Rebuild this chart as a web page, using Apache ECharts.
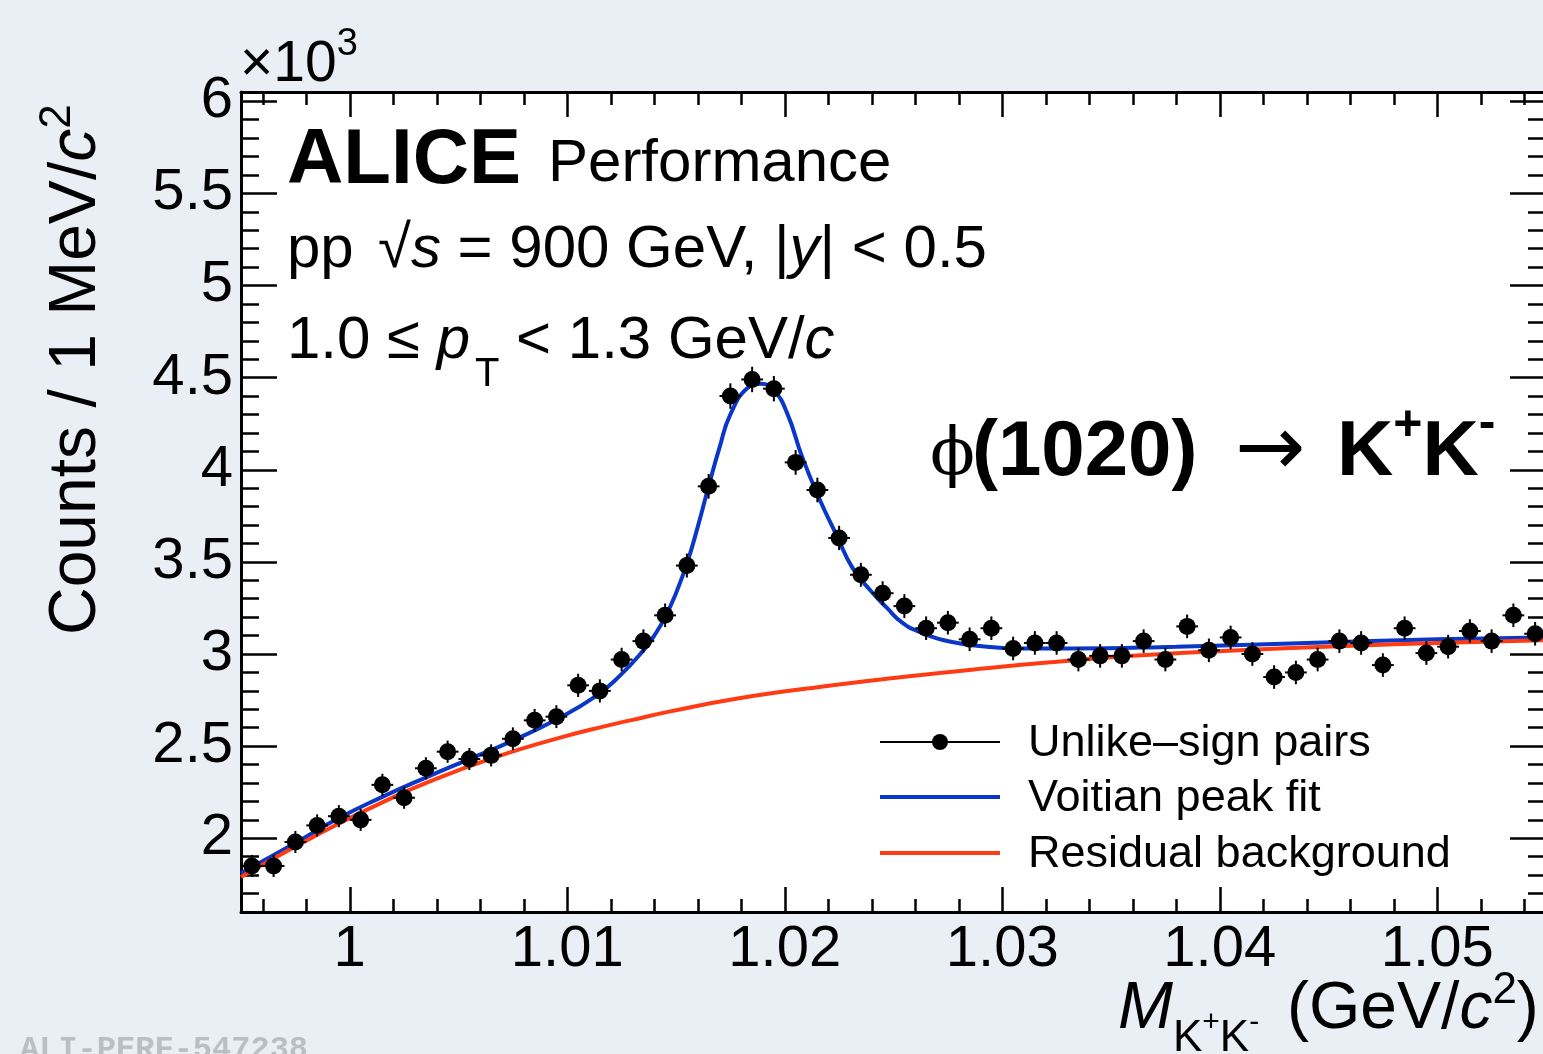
<!DOCTYPE html>
<html lang="en">
<head>
<meta charset="UTF-8">
<title>phi(1020) -> K+K- invariant mass</title>
<script src="https://cdn.jsdelivr.net/npm/echarts@6/dist/echarts.min.js"></script>
<style>
    html, body { margin: 0; padding: 0; background: #eaeff6; }
    #main { width: 1543px; height: 1054px; }
</style>
</head>
<body>
<div id="main"></div>
<script>
// invariant mass bins (GeV/c^2), counts in units of 10^3 per 1 MeV/c^2
var binCenters = [0.9955, 0.9965, 0.9975, 0.9985, 0.9995, 1.0005, 1.0015, 1.0025, 1.0035, 1.0045,
    1.0055, 1.0065, 1.0075, 1.0085, 1.0095, 1.0105, 1.0115, 1.0125, 1.0135, 1.0145,
    1.0155, 1.0165, 1.0175, 1.0185, 1.0195, 1.0205, 1.0215, 1.0225, 1.0235, 1.0245,
    1.0255, 1.0265, 1.0275, 1.0285, 1.0295, 1.0305, 1.0315, 1.0325, 1.0335, 1.0345,
    1.0355, 1.0365, 1.0375, 1.0385, 1.0395, 1.0405, 1.0415, 1.0425, 1.0435, 1.0445,
    1.0455, 1.0465, 1.0475, 1.0485, 1.0495, 1.0505, 1.0515, 1.0525, 1.0535, 1.0545];
var counts = [1.85, 1.85, 1.98, 2.07, 2.12, 2.10, 2.29, 2.22, 2.38, 2.47,
    2.43, 2.45, 2.54, 2.64, 2.66, 2.83, 2.80, 2.97, 3.07, 3.21,
    3.48, 3.91, 4.40, 4.49, 4.44, 4.04, 3.89, 3.63, 3.43, 3.33,
    3.26, 3.14, 3.17, 3.08, 3.14, 3.03, 3.06, 3.06, 2.97, 2.99,
    2.99, 3.07, 2.97, 3.15, 3.02, 3.09, 3.00, 2.875, 2.90, 2.97,
    3.07, 3.06, 2.94, 3.14, 3.005, 3.04, 3.125, 3.07, 3.21, 3.11];
var countErrors = [0.060, 0.060, 0.060, 0.060, 0.060, 0.060, 0.060, 0.060, 0.060, 0.060,
    0.060, 0.060, 0.062, 0.062, 0.062, 0.063, 0.063, 0.064, 0.064, 0.064,
    0.065, 0.067, 0.069, 0.069, 0.069, 0.067, 0.067, 0.066, 0.065, 0.065,
    0.065, 0.064, 0.064, 0.064, 0.064, 0.064, 0.064, 0.064, 0.064, 0.064,
    0.064, 0.064, 0.064, 0.064, 0.064, 0.064, 0.064, 0.064, 0.064, 0.064,
    0.064, 0.064, 0.064, 0.064, 0.064, 0.064, 0.064, 0.064, 0.064, 0.064];
var binHalfWidth = 0.0005;

// Voigtian peak + background fit
var fitX = [0.995, 0.9975, 0.9995, 1.0015, 1.0036, 1.0055, 1.0075, 1.0095, 1.0113, 1.0124,
    1.0135, 1.0140, 1.0145, 1.0150, 1.0155, 1.0160, 1.0165, 1.0170, 1.0175, 1.0183,
    1.0189, 1.0195, 1.0201, 1.0208, 1.0216, 1.0224, 1.0231, 1.0239, 1.0247, 1.0254,
    1.0262, 1.0277, 1.0293, 1.0308, 1.0331, 1.038, 1.044, 1.050, 1.055];
var fitY = [1.81, 1.975, 2.11, 2.225, 2.335, 2.43, 2.53, 2.645, 2.77, 2.88,
    3.02, 3.10, 3.20, 3.33, 3.49, 3.69, 3.91, 4.12, 4.30, 4.445,
    4.467, 4.43, 4.31, 4.07, 3.84, 3.64, 3.47, 3.35, 3.25, 3.17,
    3.12, 3.065, 3.04, 3.03, 3.03, 3.04, 3.06, 3.08, 3.09];

// residual background
var bkgX = [0.995, 0.9975, 0.9995, 1.0015, 1.0036, 1.0067, 1.0098, 1.0118, 1.0129, 1.0148,
    1.0179, 1.0215, 1.0254, 1.0290, 1.0322, 1.0360, 1.0399, 1.0461, 1.0500, 1.055];
var bkgY = [1.79, 1.955, 2.08, 2.195, 2.305, 2.44, 2.55, 2.61, 2.64, 2.69,
    2.76, 2.82, 2.875, 2.92, 2.955, 2.99, 3.015, 3.045, 3.06, 3.075];

var xLabelValues = [1, 1.01, 1.02, 1.03, 1.04, 1.05];
var yLabelValues = [2, 2.5, 3, 3.5, 4, 4.5, 5, 5.5, 6];

var FONT = 'Liberation Sans';
var measure = document.createElement('canvas').getContext('2d');

function inList(list, v) {
    for (var i = 0; i < list.length; i++) {
        if (Math.abs(list[i] - v) < 1e-7) return true;
    }
    return false;
}

// a run of text pieces on one baseline; pieces may change size / style / offset
function textRun(x, y, pieces, rotation) {
    var cx = 0, kids = [];
    pieces.forEach(function (p) {
        if (p.x !== undefined) cx = p.x;
        var fam = p.family || FONT;
        var st = p.italic ? 'italic' : 'normal';
        var wt = p.bold ? 'bold' : 'normal';
        measure.font = st + ' ' + wt + ' ' + p.size + 'px ' + fam;
        kids.push({
            type: 'text', x: cx, y: (p.dy || 0) - 0.32 * p.size,
            style: {
                text: p.t, fill: p.color || '#000',
                fontSize: p.size, fontFamily: fam, fontStyle: st, fontWeight: wt,
                align: 'left', verticalAlign: 'middle', textAlign: 'left', textVerticalAlign: 'middle'
            }
        });
        cx += measure.measureText(p.t).width;
    });
    return { type: 'group', x: x, y: y, rotation: rotation || 0, children: kids, silent: true, z: 100 };
}

function xAxisOpt(pos, showLabels) {
    return {
        type: 'value', position: pos, min: 0.995, max: 1.055, splitNumber: 6,
        axisLine: { show: true, onZero: false, lineStyle: { color: '#000', width: 3 } },
        axisTick: { show: true, inside: true, length: 25, lineStyle: { color: '#000', width: 2.5 } },
        minorTick: { show: true, splitNumber: 5, length: 13, lineStyle: { color: '#000', width: 2.5 } },
        splitLine: { show: false }, minorSplitLine: { show: false },
        axisLabel: {
            show: showLabels, margin: 9, color: '#000', fontSize: 58, fontFamily: FONT,
            formatter: function (v) { return inList(xLabelValues, v) ? String(+v.toFixed(2)) : ''; }
        }
    };
}

function yAxisOpt(pos, showLabels) {
    return {
        type: 'value', position: pos, min: 1.6, max: 6.05, splitNumber: 9,
        axisLine: { show: true, onZero: false, lineStyle: { color: '#000', width: 3 } },
        axisTick: { show: true, inside: true, length: 36, lineStyle: { color: '#000', width: 2.5 } },
        minorTick: { show: true, splitNumber: 5, length: 18, lineStyle: { color: '#000', width: 2.5 } },
        splitLine: { show: false }, minorSplitLine: { show: false },
        axisLabel: {
            show: showLabels, margin: 8, color: '#000', fontSize: 58, fontFamily: FONT,
            formatter: function (v) { return inList(yLabelValues, v) ? String(+v.toFixed(1)) : ''; }
        }
    };
}

var pointData = binCenters.map(function (x, i) { return [x, counts[i], countErrors[i]]; });
var fitData = fitX.map(function (x, i) { return [x, fitY[i]]; });
var bkgData = bkgX.map(function (x, i) { return [x, bkgY[i]]; });

var legendRows = [
    { y: 742, label: 'Unlike\u2013sign pairs', color: '#000', width: 2, dot: true },
    { y: 797, label: 'Voitian peak fit', color: '#0a37c8', width: 4 },
    { y: 853, label: 'Residual background', color: '#ff3b14', width: 4 }
];
var legendGraphics = [];
legendRows.forEach(function (r) {
    legendGraphics.push({ type: 'line', z: 100, shape: { x1: 880, y1: r.y, x2: 1000, y2: r.y }, style: { stroke: r.color, lineWidth: r.width } });
    if (r.dot) legendGraphics.push({ type: 'circle', z: 100, shape: { cx: 940, cy: r.y, r: 8 }, style: { fill: '#000' } });
    legendGraphics.push(textRun(1028, r.y + 16, [{ t: r.label, size: 45 }]));
});

var graphics = [
    textRun(240, 84, [{ t: '\u00d710', size: 57 }, { t: '3', size: 38, dy: -27 }]),
    textRun(287, 186, [{ t: 'ALICE', size: 78, bold: true }]),
    textRun(548, 184, [{ t: 'Performance', size: 60 }]),
    textRun(287, 270, [
        { t: 'pp', size: 60 }, { t: '\u221a', size: 60, x: 91 }, { t: 's', size: 60, italic: true },
        { t: ' = 900 GeV, |', size: 60 }, { t: 'y', size: 60, italic: true }, { t: '| < 0.5', size: 60 }
    ]),
    textRun(287, 361, [
        { t: '1.0 \u2264 ', size: 60 }, { t: 'p', size: 60, italic: true }, { t: 'T', size: 40, dy: 27, x: 188 },
        { t: ' < 1.3 GeV/', size: 60 }, { t: 'c', size: 60, italic: true }
    ]),
    textRun(930, 478, [
        { t: '\u03d5', size: 66, family: 'DejaVu Serif' },
        { t: '(1020)', size: 78, bold: true, x: 42 },
        { t: '\u2192', size: 84, family: 'DejaVu Sans', x: 305, dy: 2 },
        { t: 'K', size: 78, bold: true, x: 407 }, { t: '+', size: 50, bold: true, dy: -36 },
        { t: 'K', size: 78, bold: true }, { t: '-', size: 50, bold: true, dy: -38 }
    ]),
    textRun(1118, 1031, [
        { t: 'M', size: 66, italic: true },
        { t: 'K', size: 44, dy: 22 }, { t: '+', size: 30, dy: 1 },
        { t: 'K', size: 44, dy: 22 }, { t: '-', size: 30, dy: 1 },
        { t: '(GeV/', size: 66, x: 169 }, { t: 'c', size: 66, italic: true }, { t: '2', size: 44, dy: -26 },
        { t: ')', size: 66 }
    ]),
    textRun(98, 635, [
        { t: 'Counts / 1 MeV/', size: 66 }, { t: 'c', size: 66, italic: true }, { t: '2', size: 44, dy: -26 }
    ], Math.PI / 2),
    textRun(20, 1060, [{ t: 'ALI-PERF-547238', size: 32, family: 'Liberation Mono', bold: true, color: '#b9bec7' }])
].concat(legendGraphics);

var chart = echarts.init(document.getElementById('main'), null, { renderer: 'canvas' });
chart.setOption({
    animation: false,
    backgroundColor: '#eaeff6',
    grid: {
        left: 241, top: 92, width: 1305, bottom: 142, outerBoundsMode: 'none', containLabel: false,
        show: true, backgroundColor: '#fff', borderWidth: 0
    },
    xAxis: [xAxisOpt('bottom', true), xAxisOpt('top', false)],
    yAxis: [yAxisOpt('left', true), yAxisOpt('right', false)],
    series: [
        {
            name: 'Voitian peak fit', type: 'line', data: fitData, xAxisIndex: 0, yAxisIndex: 0,
            smooth: 0.5, showSymbol: false, symbol: 'none', z: 2,
            lineStyle: { color: '#0a37c8', width: 4 }
        },
        {
            name: 'Residual background', type: 'line', data: bkgData, xAxisIndex: 0, yAxisIndex: 0,
            smooth: 0.5, showSymbol: false, symbol: 'none', z: 3,
            lineStyle: { color: '#ff3b14', width: 4 }
        },
        {
            name: 'errors', type: 'custom', data: pointData, xAxisIndex: 0, yAxisIndex: 0, z: 4,
            encode: { x: 0, y: 1 },
            renderItem: function (params, api) {
                var x = api.value(0), y = api.value(1), e = api.value(2);
                var lo = api.coord([x, y - e]), hi = api.coord([x, y + e]);
                var l = api.coord([x - binHalfWidth, y]), r = api.coord([x + binHalfWidth, y]);
                return {
                    type: 'group', children: [
                        { type: 'line', shape: { x1: lo[0], y1: lo[1], x2: hi[0], y2: hi[1] }, style: { stroke: '#000', lineWidth: 2 } },
                        { type: 'line', shape: { x1: l[0], y1: l[1], x2: r[0], y2: r[1] }, style: { stroke: '#000', lineWidth: 2 } }
                    ]
                };
            }
        },
        {
            name: 'Unlike\u2013sign pairs', type: 'scatter', data: pointData, xAxisIndex: 0, yAxisIndex: 0, z: 5,
            encode: { x: 0, y: 1 }, symbol: 'circle', symbolSize: 17, itemStyle: { color: '#000', opacity: 1 }
        }
    ],
    graphic: graphics
});
</script>
</body>
</html>
